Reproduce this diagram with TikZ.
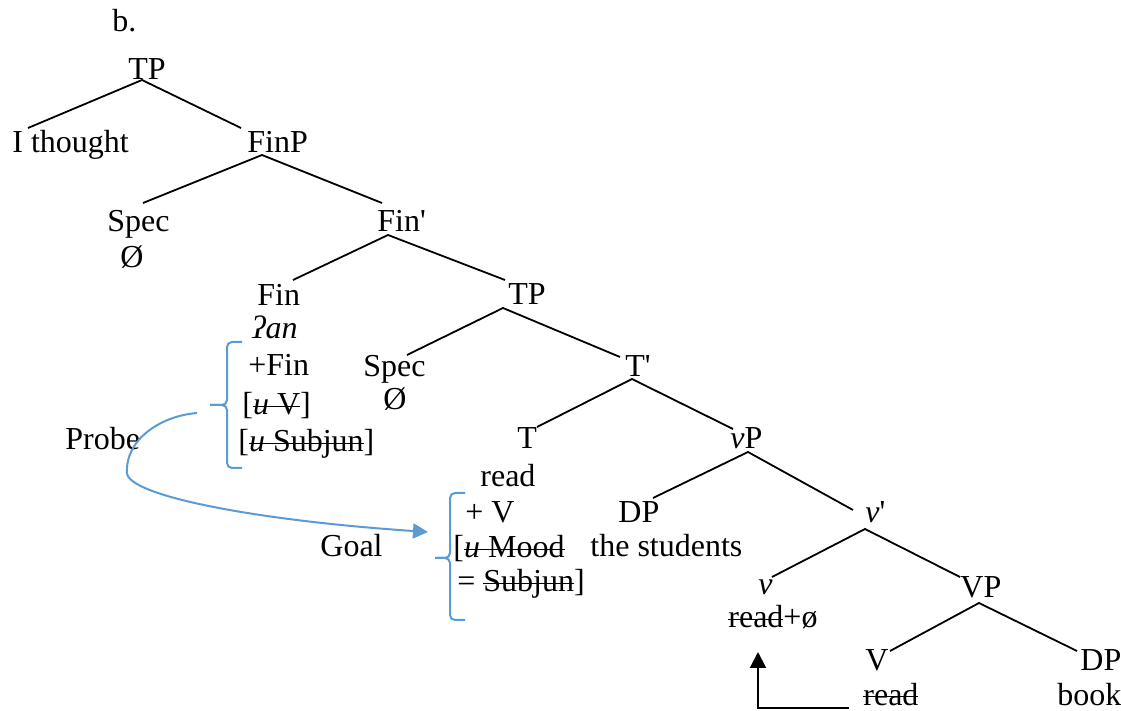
\documentclass[tikz,border=0pt]{standalone}
\usepackage{fontspec}
\setmainfont{Liberation Serif}
\newcommand{\strk}[1]{{\setbox0\hbox{#1}\rlap{\rule[0.24em]{\wd0}{0.9pt}}\box0}}
\usetikzlibrary{arrows.meta}
\definecolor{probeblue}{RGB}{91,155,213}
\begin{document}
\begin{tikzpicture}[x=0.5pt,y=-0.5pt,
  lbl/.style={inner sep=0pt, anchor=base west, font=\fontsize{16}{19}\selectfont},
  edge/.style={line width=0.9pt},
  bluebr/.style={draw=probeblue, line width=1pt, rounded corners=2.5pt},
  probe/.style={draw=probeblue, line width=1pt, -{Triangle[length=7.5pt,width=7.5pt]}},
  move/.style={line width=1pt, -{Triangle[length=8pt,width=8pt]}},
]
\useasboundingbox (0,0) rectangle (1121,711);

% labels
\node[lbl] (b) at (112,32) {b.};
\node[lbl] (tp1) at (128,80) {TP};
\node[lbl] (ithought) at (12,153) {I thought};
\node[lbl] (finp) at (247,153) {FinP};
\node[lbl] (spec1) at (107,232) {Spec};
\node[lbl] (empty1) at (120,268) {Ø};
\node[lbl] (finbar) at (377,232) {Fin\textquotesingle};
\node[lbl] (fin) at (257,306) {Fin};
\node[lbl] (ean) at (252,339) {\textit{ʔan}};
\node[lbl] (pfin) at (248,376) {+Fin};
\node[lbl] (uv) at (242,415) {[\strk{\textit{u} V}]};
\node[lbl] (usub) at (238,452) {[\strk{\textit{u} Subjun}]};
\node[lbl] (tp2) at (508,305) {TP};
\node[lbl] (spec2) at (363,377) {Spec};
\node[lbl] (empty2) at (383,410) {Ø};
\node[lbl] (tbar) at (625,377) {T\textquotesingle};
\node[lbl] (t) at (517,449) {T};
\node[lbl] (read1) at (480,487) {read};
\node[lbl] (pv) at (465,523) {+ V};
\node[lbl] (umood) at (453,558) {[\strk{\textit{u} Mood}};
\node[lbl] (esub) at (457,592) {= \strk{Subjun}]};
\node[lbl] (vp) at (730,449) {\textit{v}P};
\node[lbl] (dp1) at (618,523) {DP};
\node[lbl] (students) at (590,557) {the students};
\node[lbl] (vbar) at (865,523) {\textit{v}\textquotesingle};
\node[lbl] (vsmall) at (758,595) {\textit{v}};
\node[lbl] (readnull) at (728,628) {\strk{read}+ø};
\node[lbl] (VP) at (960,597) {VP};
\node[lbl] (V) at (865,670) {V};
\node[lbl] (read2) at (863,705) {\strk{read}};
\node[lbl] (dp2) at (1080,670) {DP};
\node[lbl] (book) at (1057,705) {book};
\node[lbl] (probelbl) at (65,450) {Probe};
\node[lbl] (goal) at (320,557) {Goal};

% edge end points
\coordinate (tp1a) at (142,80);   \coordinate (ithoughtt) at (28,128);  \coordinate (finpt) at (241,128);
\coordinate (finpa) at (262,155); \coordinate (spec1t) at (143,203);    \coordinate (finbart) at (382,203);
\coordinate (finbara) at (388,235); \coordinate (fint) at (293,280);    \coordinate (tp2t) at (505,280);
\coordinate (tp2a) at (503,308);  \coordinate (spec2t) at (407,355);    \coordinate (tbart) at (620,357);
\coordinate (tbara) at (632,379); \coordinate (tt) at (537,427);        \coordinate (vpt) at (733,429);
\coordinate (vpa) at (748,452);   \coordinate (dp1t) at (653,498);      \coordinate (vbart) at (853,510);
\coordinate (vbara) at (865,529); \coordinate (vsmallt) at (772,577);   \coordinate (VPt) at (960,577);
\coordinate (VPa) at (979,603);   \coordinate (Vt) at (890,651);        \coordinate (dp2t) at (1077,651);

\draw[edge] (ithoughtt) -- (tp1a) -- (finpt);
\draw[edge] (spec1t) -- (finpa) -- (finbart);
\draw[edge] (fint) -- (finbara) -- (tp2t);
\draw[edge] (spec2t) -- (tp2a) -- (tbart);
\draw[edge] (tt) -- (tbara) -- (vpt);
\draw[edge] (dp1t) -- (vpa) -- (vbart);
\draw[edge] (vsmallt) -- (vbara) -- (VPt);
\draw[edge] (Vt) -- (VPa) -- (dp2t);

% braces
\coordinate (br1tip) at (210,405);
\draw[bluebr] (242,342) -- (227,342) -- (227,405) -- (br1tip);
\draw[bluebr] (br1tip) -- (227,405) -- (227,468) -- (242,468);
\coordinate (br2tip) at (435,558);
\draw[bluebr] (465,493) -- (450,493) -- (450,558) -- (br2tip);
\draw[bluebr] (br2tip) -- (450,558) -- (450,620) -- (465,620);

% probe -> goal
\coordinate (pstart) at (197,413);
\coordinate (ptip) at (428,532);
\draw[probe] (pstart) .. controls (160,416) and (125,440) .. (127,473)
  .. controls (128,495) and (250,520) .. (ptip);

% head movement arrow
\coordinate (arS) at (849,708);
\coordinate (arC) at (758,708);
\coordinate (arT) at (758,652);
\draw[move] (arS) -- (arC) -- (arT);
\end{tikzpicture}
\end{document}
